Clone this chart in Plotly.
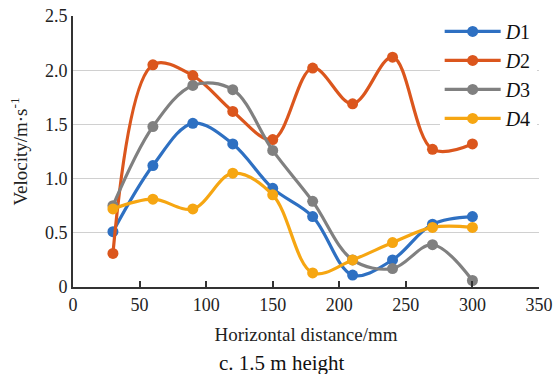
import plotly.graph_objects as go

# Horizontal measuring positions (mm)
distance = [30, 60, 90, 120, 150, 180, 210, 240, 270, 300]

# Air velocity (m/s) at each measuring line
d1 = [0.51, 1.12, 1.51, 1.32, 0.91, 0.65, 0.11, 0.25, 0.58, 0.65]
d2 = [0.31, 2.05, 1.95, 1.62, 1.36, 2.02, 1.69, 2.12, 1.27, 1.32]
d3 = [0.75, 1.48, 1.86, 1.82, 1.26, 0.79, 0.25, 0.17, 0.39, 0.06]
d4 = [0.72, 0.81, 0.72, 1.05, 0.85, 0.13, 0.25, 0.41, 0.55, 0.55]

series_names = ["D1", "D2", "D3", "D4"]
series_values = [d1, d2, d3, d4]
colors = ["#2E70C2", "#DB561D", "#808080", "#F6A612"]

x_ticks = [0, 50, 100, 150, 200, 250, 300, 350]
y_ticks = [0, 0.5, 1.0, 1.5, 2.0, 2.5]
y_tick_text = ["0", "0.5", "1.0", "1.5", "2.0", "2.5"]

FONT = "Liberation Serif, Times New Roman, serif"

fig = go.Figure()
for name, vals, col in zip(series_names, series_values, colors):
    fig.add_trace(go.Scatter(
        x=distance, y=vals,
        mode="lines+markers",
        name=f"<i>{name[0]}</i>{name[1:]}",
        line=dict(color=col, width=3.2, shape="spline", smoothing=1.0),
        marker=dict(color=col, size=11),
    ))

fig.update_layout(
    width=556, height=374,
    margin=dict(l=73, r=17, t=16, b=87, autoexpand=False),
    paper_bgcolor="white",
    plot_bgcolor="white",
    font=dict(family=FONT, size=19, color="#222222"),
    showlegend=True,
    legend=dict(
        x=0.995, y=1.015, xanchor="right", yanchor="top",
        bgcolor="white",
        font=dict(family=FONT, size=20, color="#111111"),
        itemwidth=56,
        tracegroupgap=0,
    ),
    xaxis=dict(
        range=[0, 350],
        tickvals=x_ticks,
        ticks="inside", ticklen=6, tickcolor="#333333", tickwidth=1.5,
        showline=True, linecolor="#333333", linewidth=2,
        showgrid=False, zeroline=False,
        title=dict(text="Horizontal distance/mm", font=dict(size=19), standoff=14),
        tickfont=dict(size=18),
    ),
    yaxis=dict(
        range=[0, 2.5],
        tickvals=y_ticks, ticktext=y_tick_text,
        ticks="",
        showline=True, linecolor="#333333", linewidth=2,
        showgrid=True, gridcolor="#D0D0D0", gridwidth=1,
        zeroline=False,
        title=dict(text="Velocity/m·s<sup>-1</sup>", font=dict(size=19), standoff=12),
        tickfont=dict(size=18),
    ),
)

fig.add_annotation(
    text="c. 1.5 m height",
    xref="paper", yref="paper",
    x=(282 - 73) / (539 - 73), y=-(363 - 287) / (287 - 16),
    xanchor="center", yanchor="middle",
    showarrow=False,
    font=dict(family=FONT, size=21, color="#111111"),
)

fig.write_html("out.html")
